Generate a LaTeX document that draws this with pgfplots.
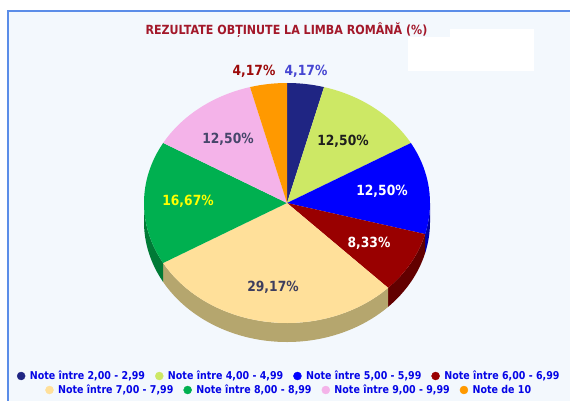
\documentclass[border=0pt]{standalone}
\usepackage{fontspec}
\setmainfont{DejaVu Sans}
\newfontfamily\tah{DejaVu Sans}[FakeStretch=0.88]
\usepackage{pgfplots}
\usepackage{pgfplotstable}
\pgfplotsset{compat=1.18}

\definecolor{bgcol}{HTML}{F3F8FD}
\definecolor{bordercol}{HTML}{5B8DE8}
\definecolor{titlecol}{HTML}{A3182A}
\definecolor{legblue}{HTML}{0505E6}
% top faces
\definecolor{c0}{HTML}{1F2583}
\definecolor{c1}{HTML}{CDE865}
\definecolor{c2}{HTML}{0000FF}
\definecolor{c3}{HTML}{990000}
\definecolor{c4}{HTML}{FFE09A}
\definecolor{c5}{HTML}{00B050}
\definecolor{c6}{HTML}{F4B3E9}
\definecolor{c7}{HTML}{FF9900}
% sides
\definecolor{d0}{HTML}{121650}
\definecolor{d1}{HTML}{8FA040}
\definecolor{d2}{HTML}{0000A8}
\definecolor{d3}{HTML}{620000}
\definecolor{d4}{HTML}{B5A66E}
\definecolor{d5}{HTML}{007A36}
\definecolor{d6}{HTML}{B080A8}
\definecolor{d7}{HTML}{B06A00}
% label colours
\definecolor{l0}{HTML}{4646D2}
\definecolor{l1}{HTML}{1E1E1E}
\definecolor{l2}{HTML}{FFFFFF}
\definecolor{l3}{HTML}{FFFFFF}
\definecolor{l4}{HTML}{3E3E5E}
\definecolor{l5}{HTML}{FFFF00}
\definecolor{l6}{HTML}{46466A}
\definecolor{l7}{HTML}{9C0A0A}

% value (%), label position (image px, y from top)
\pgfplotstableread{
idx value lx ly
0 4.17  306 71
1 12.50 343 141
2 12.50 382 191
3 8.33  369 243
4 29.17 273 287
5 16.67 188 201
6 12.50 228 139
7 4.17  254 71
}\piedata

\def\cumangle{90}
\pgfplotsforeachungrouped \i in {0,...,7}{%
  \pgfplotstablegetelem{\i}{value}\of\piedata
  \let\curval\pgfplotsretval
  \expandafter\xdef\csname sV\i\endcsname{\curval}%
  \pgfmathsetmacro\tmpend{\cumangle-3.6*\curval}%
  \expandafter\xdef\csname sA\i\endcsname{\cumangle}%
  \expandafter\xdef\csname sB\i\endcsname{\tmpend}%
  \pgfmathsetmacro\tmpa{min(\cumangle,0)}%
  \pgfmathsetmacro\tmpb{max(\tmpend,-180)}%
  \pgfmathtruncatemacro\tmpf{\tmpa>\tmpb ? 1 : 0}%
  \expandafter\xdef\csname sa\i\endcsname{\tmpa}%
  \expandafter\xdef\csname sb\i\endcsname{\tmpb}%
  \expandafter\xdef\csname sF\i\endcsname{\tmpf}%
  \pgfplotstablegetelem{\i}{lx}\of\piedata
  \expandafter\xdef\csname sX\i\endcsname{\pgfplotsretval}%
  \pgfplotstablegetelem{\i}{ly}\of\piedata
  \pgfmathsetmacro\tmpy{401-\pgfplotsretval}%
  \expandafter\xdef\csname sY\i\endcsname{\tmpy}%
  \global\let\cumangle\tmpend
}

\def\cx{287}
\def\cy{198}

\pgfplotsset{
  pieaxis/.style={
    x=1bp, y=1bp,
    xmin=0, xmax=570, ymin=0, ymax=401,
    hide axis, clip=false,
    legend columns=4,
    legend image code/.code={\fill[##1] (0bp,0bp) circle (4bp);},
    legend style={draw=none, fill=none, anchor=center,
      font=\tah\bfseries\fontsize{10.8bp}{12bp}\selectfont,
      text=legblue,
      nodes={inner sep=1.5bp},
      /tikz/every odd column/.append style={column sep=3bp},
      /tikz/every even column/.append style={column sep=8.5bp}},
    legend cell align=left,
  }
}

\begin{document}
\begin{tikzpicture}
\begin{axis}[pieaxis, legend style={at={(axis cs:289,25)}}]
  % background
  \fill[white] (axis cs:0,0) rectangle (axis cs:570,401);
  \fill[bordercol] (axis cs:7,0) rectangle (axis cs:570,391);
  \fill[bgcol] (axis cs:9,0) rectangle (axis cs:570,389);
  \fill[white] (axis cs:408,330) rectangle (axis cs:450,364);
  \fill[white] (axis cs:450,330) rectangle (axis cs:534,372);
  % title
  \node[font=\tah\bfseries\fontsize{12.6bp}{14bp}\selectfont, text=titlecol]
    at (axis cs:286.5,371) {REZULTATE OBȚINUTE LA LIMBA ROMÂNĂ (\%)};
  % sides
  \pgfplotsinvokeforeach{0,...,7}{%
    \ifnum\csname sF#1\endcsname=1
      \fill[d#1] (axis cs:\cx,\cy) ++(\csname sa#1\endcsname:143bp and 120bp)
        arc[start angle=\csname sa#1\endcsname, end angle=\csname sb#1\endcsname, x radius=143bp, y radius=120bp]
        -- ++(0bp,-19bp)
        arc[start angle=\csname sb#1\endcsname, end angle=\csname sa#1\endcsname, x radius=143bp, y radius=120bp]
        -- cycle;
    \fi
  }
  % top faces
  \pgfplotsinvokeforeach{0,...,7}{%
    \fill[c#1] (axis cs:\cx,\cy) -- ++(\csname sA#1\endcsname:143bp and 120bp)
      arc[start angle=\csname sA#1\endcsname, end angle=\csname sB#1\endcsname, x radius=143bp, y radius=120bp]
      -- cycle;
  }
  % labels
  \pgfplotsinvokeforeach{0,...,7}{%
    \node[font=\tah\bfseries\fontsize{14bp}{14bp}\selectfont, text=l#1]
      at (axis cs:\csname sX#1\endcsname,\csname sY#1\endcsname)
      {\pgfmathprintnumber[fixed, fixed zerofill, precision=2, use comma, assume math mode=true]{\csname sV#1\endcsname}\%};
  }
  \addlegendimage{c0}\addlegendentry{Note între 2,00 - 2,99}
  \addlegendimage{c1}\addlegendentry{Note între 4,00 - 4,99}
  \addlegendimage{c2}\addlegendentry{Note între 5,00 - 5,99}
  \addlegendimage{c3}\addlegendentry{Note între 6,00 - 6,99}
\end{axis}
\begin{axis}[pieaxis, legend style={at={(axis cs:289,11)}}]
  \addlegendimage{c4}\addlegendentry{Note între 7,00 - 7,99}
  \addlegendimage{c5}\addlegendentry{Note între 8,00 - 8,99}
  \addlegendimage{c6}\addlegendentry{Note între 9,00 - 9,99}
  \addlegendimage{c7}\addlegendentry{Note de 10}
\end{axis}
\end{tikzpicture}
\end{document}
